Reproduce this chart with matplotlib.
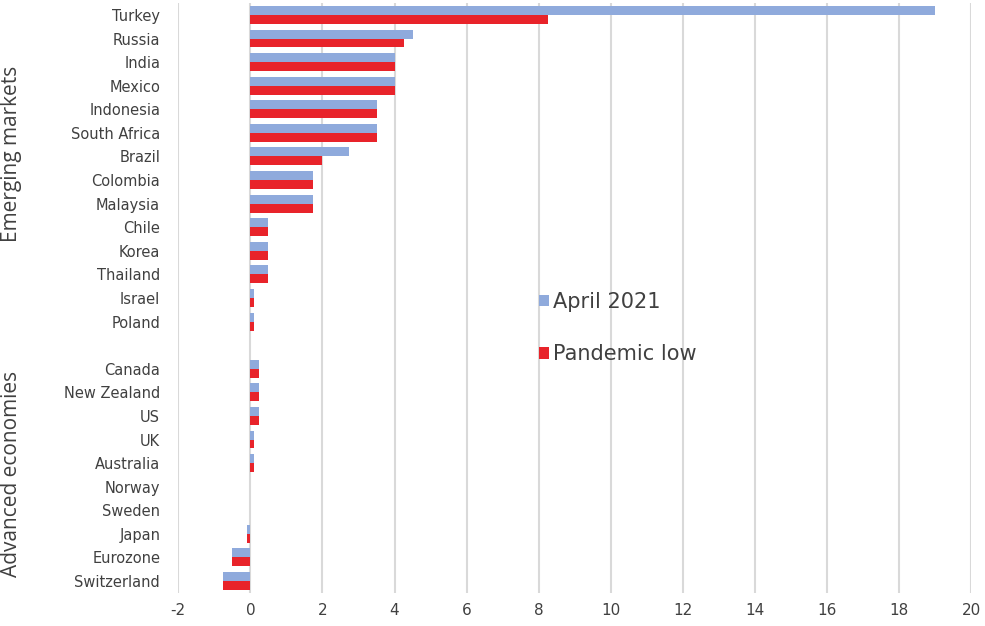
import numpy as np
import matplotlib.pyplot as plt

plt.rcParams["font.family"] = ["DejaVu Sans"]

emerging = ["Turkey", "Russia", "India", "Mexico", "Indonesia", "South Africa",
            "Brazil", "Colombia", "Malaysia", "Chile", "Korea", "Thailand",
            "Israel", "Poland"]
emerging_apr21 = [19.0, 4.5, 4.0, 4.0, 3.5, 3.5, 2.75, 1.75, 1.75, 0.5, 0.5, 0.5, 0.1, 0.1]
emerging_low = [8.25, 4.25, 4.0, 4.0, 3.5, 3.5, 2.0, 1.75, 1.75, 0.5, 0.5, 0.5, 0.1, 0.1]

advanced = ["Canada", "New Zealand", "US", "UK", "Australia", "Norway",
            "Sweden", "Japan", "Eurozone", "Switzerland"]
advanced_apr21 = [0.25, 0.25, 0.25, 0.1, 0.1, 0.0, 0.0, -0.1, -0.5, -0.75]
advanced_low = [0.25, 0.25, 0.25, 0.1, 0.1, 0.0, 0.0, -0.1, -0.5, -0.75]

xticks = list(range(-2, 21, 2))

blue = "#8faadc"
red = "#e8232a"
text_col = "#404040"

# emerging block, one empty slot, advanced block
labels = emerging + advanced
apr21 = emerging_apr21 + advanced_apr21
low = emerging_low + advanced_low
pos = np.concatenate([np.arange(len(emerging)),
                      np.arange(len(advanced)) + len(emerging) + 1])

fig = plt.figure(figsize=(9.85, 6.26), dpi=100)
ax = fig.add_axes([0.181, 0.053, 0.805, 0.942])

h = 0.38
ax.barh(pos - h / 2, apr21, height=h, color=blue, label="April 2021", zorder=3)
ax.barh(pos + h / 2, low, height=h, color=red, label="Pandemic low", zorder=3)

ax.set_xlim(-2, 20)
ax.set_ylim(len(labels) + 0.5, -0.5)
ax.set_xticks(xticks)
ax.set_xticklabels([str(t) for t in xticks], fontsize=11, color=text_col)
ax.set_yticks(pos)
ax.set_yticklabels(labels, fontsize=10.5, color=text_col)
ax.tick_params(axis="y", length=0, pad=13)
ax.tick_params(axis="x", length=0, pad=7)
ax.grid(axis="x", color="#d9d9d9", linewidth=1.5, zorder=0)
for s in ax.spines.values():
    s.set_visible(False)

fig.text(0.012, 1 - 154 / 626, "Emerging markets", rotation=90,
         ha="center", va="center", fontsize=15, color=text_col,
         family="Open Sans")
fig.text(0.012, 1 - 474 / 626, "Advanced economies", rotation=90,
         ha="center", va="center", fontsize=15, color=text_col,
         family="Open Sans")

leg = ax.legend(loc="upper left", bbox_to_anchor=(0.537, 0.55),
                bbox_transform=fig.transFigure, frameon=False,
                fontsize=15, handlelength=0.45, handleheight=0.45,
                handletextpad=0.2, labelspacing=1.55, borderpad=0)
for t in leg.get_texts():
    t.set_color(text_col)

fig.savefig("out.png", dpi=100)
